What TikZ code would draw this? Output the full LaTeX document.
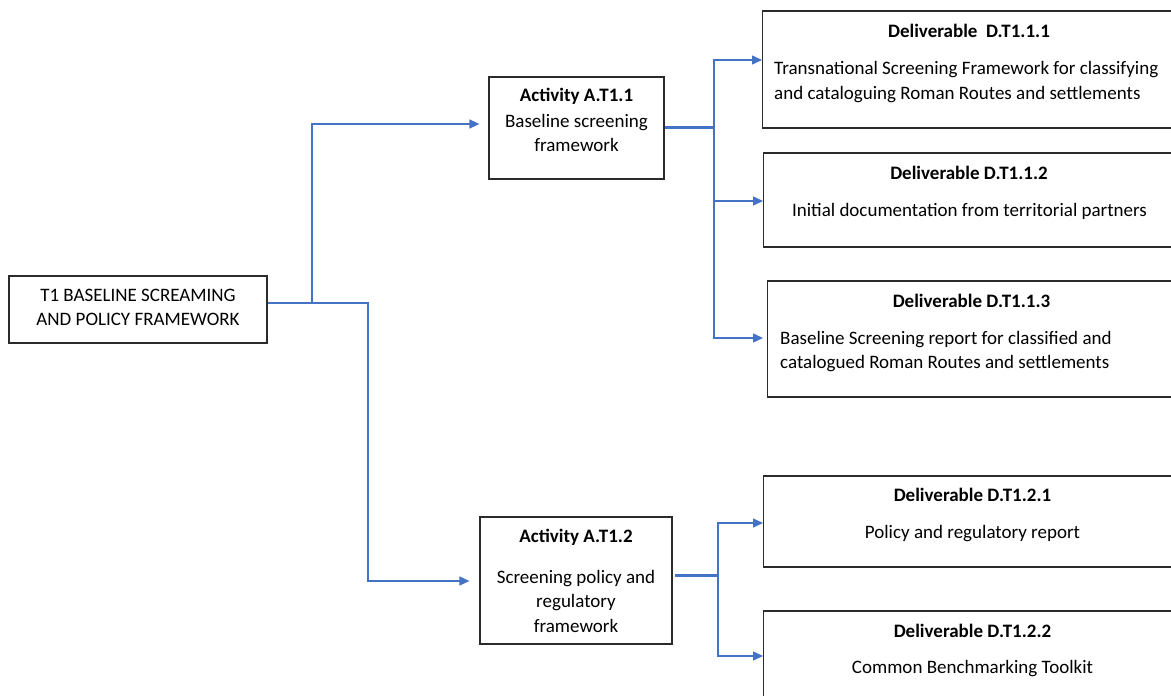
\documentclass[tikz,border=0pt]{standalone}
\usepackage{fontspec}
\setmainfont{Carlito}
\usetikzlibrary{arrows.meta,calc}
\definecolor{linkblue}{HTML}{4472C4}
\definecolor{boxline}{HTML}{2B2B2B}
\tikzset{
  box/.style={draw=boxline, line width=1.2pt, rectangle, inner sep=0pt, minimum width=#1},
  txt/.style={inner sep=0pt, font=\fontsize{19}{24.5}\selectfont},
  hdr/.style={inner sep=0pt, font=\fontsize{19}{24.5}\selectfont\bfseries},
  conn/.style={draw=linkblue, line width=1.4pt},
  arr/.style={conn, -{Triangle[length=10pt,width=9pt]}},
  trunk/.style={draw=linkblue, line width=3pt}
}
\begin{document}
\begin{tikzpicture}[x=1pt,y=-1pt]
\useasboundingbox (0,0) rectangle (1171,696);
\clip (0,0) rectangle (1171,696);

% boxes
\node[box=258pt, minimum height=67pt] (t1) at (138,309.5) {};
\node[box=175pt, minimum height=102pt] (a1) at (576.5,128) {};
\node[box=192pt, minimum height=127pt] (a2) at (576,580.5) {};
\node[box=440pt, minimum height=117pt, anchor=west] (d1) at (762,69.5) {};
\node[box=440pt, minimum height=94pt, anchor=west] (d2) at (763,200) {};
\node[box=440pt, minimum height=116pt, anchor=west] (d3) at (767,339) {};
\node[box=440pt, minimum height=91pt, anchor=west] (d4) at (763,521.5) {};
\node[box=440pt, minimum height=91pt, anchor=west] (d5) at (763,656.5) {};

% texts
\node[txt, align=center] (t1t) at (138,307.5) {T1 BASELINE SCREAMING\\AND POLICY FRAMEWORK};
\node[hdr] (a1h) at (576.5,96.5) {Activity A.T1.1};
\node[txt, align=center] (a1b) at (576.5,133) {Baseline screening\\framework};
\node[hdr] (a2h) at (576,537) {Activity A.T1.2};
\node[txt, align=center] (a2b) at (576,601) {Screening policy and\\regulatory\\framework};
\node[hdr] (d1h) at (969,31) {Deliverable\ \ D.T1.1.1};
\node[txt, align=left, anchor=west] (d1b) at (774,82) {Transnational Screening Framework for classifying\\and cataloguing Roman Routes and settlements};
\node[hdr] (d2h) at (969,173) {Deliverable D.T1.1.2};
\node[txt] (d2b) at (969.5,211) {Initial documentation from territorial partners};
\node[hdr] (d3h) at (971.5,301) {Deliverable D.T1.1.3};
\node[txt, align=left, anchor=west] (d3b) at (780,351.5) {Baseline Screening report for classified and\\catalogued Roman Routes and settlements};
\node[hdr] (d4h) at (972.5,495) {Deliverable D.T1.2.1};
\node[txt] (d4b) at (972.5,534) {Policy and regulatory report};
\node[hdr] (d5h) at (972.5,631) {Deliverable D.T1.2.2};
\node[txt] (d5b) at (972.5,669) {Common Benchmarking Toolkit};

% connectors from T1
\coordinate (s1) at ([yshift=6.5pt]t1.east);
\draw[arr] (s1) -| (312,124) -- ([xshift=-9pt,yshift=4pt]a1.west);
\draw[arr] (s1) -| (368,581) -- ([xshift=-10pt,yshift=-0.5pt]a2.west);

% connectors from A.T1.1
\coordinate (b1) at (714,127);
\draw[trunk] ([yshift=1pt]a1.east) -- (b1);
\draw[arr] (b1) |- ([yshift=9.5pt]d1.west);
\draw[arr] (b1) |- ([yshift=-1pt]d2.west);
\draw[arr] (b1) |- ([xshift=-4pt,yshift=1pt]d3.west);

% connectors from A.T1.2
\coordinate (b2) at (718,575);
\draw[trunk] ([xshift=2pt,yshift=5.5pt]a2.east) -- (b2);
\draw[arr] (b2) |- ([yshift=-1.5pt]d4.west);
\draw[arr] (b2) |- ([yshift=0.5pt]d5.west);
\end{tikzpicture}
\end{document}
